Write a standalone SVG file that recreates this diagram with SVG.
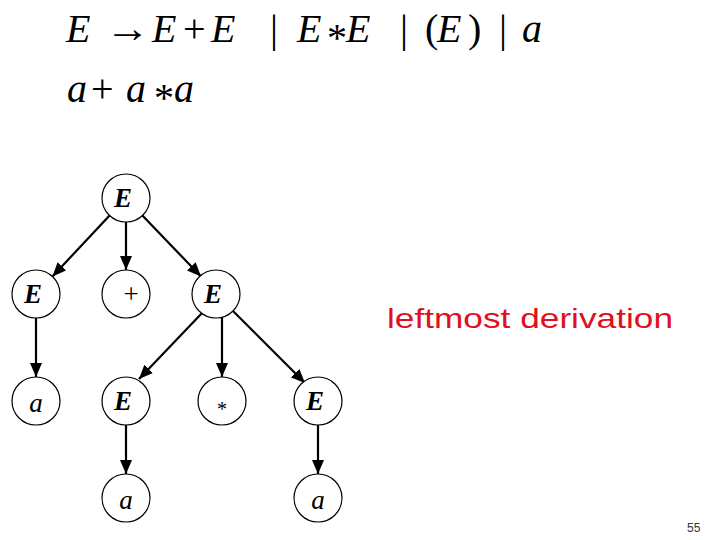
<svg xmlns="http://www.w3.org/2000/svg" width="720" height="540" viewBox="0 0 720 540">
<style>
.m{font-family:"Liberation Serif","Times New Roman",serif;font-size:40px;fill:#000}
.i{font-style:italic}
.node circle{fill:#fff;stroke:#000;stroke-width:1.2}
.lbl{font-family:"Liberation Serif","Times New Roman",serif;font-size:27px;text-anchor:middle;fill:#000}
.E{font-style:italic;font-weight:bold}
.a{font-style:italic}
.edges line{stroke:#000;stroke-width:2.2;marker-end:url(#ah)}
.note{font-family:"Comic Sans MS","Liberation Sans",sans-serif;font-size:28px;fill:#e01020}
.pg{font-family:"Liberation Sans",Arial,sans-serif;font-size:12px;fill:#333}
</style>
<defs>
<marker id="ah" markerUnits="userSpaceOnUse" markerWidth="14" markerHeight="12" refX="14" refY="6" orient="auto">
<path d="M0,0 L14,6 L0,12 z" fill="#000"/>
</marker>
</defs>
<rect width="720" height="540" fill="#fff"/>
<g id="grammar">
<text class="m i" x="66" y="42">E</text>
<text class="m" x="105" y="42" textLength="45" lengthAdjust="spacingAndGlyphs">→</text>
<text class="m i" x="152" y="42">E</text>
<text class="m" x="183" y="42">+</text>
<text class="m i" x="211" y="42">E</text>
<text class="m" x="270" y="42">|</text>
<text class="m i" x="297" y="42">E</text>
<text class="m" x="327" y="51">*</text>
<text class="m i" x="346" y="42">E</text>
<text class="m" x="400" y="42">|</text>
<text class="m" x="425" y="42">(</text>
<text class="m i" x="437" y="42">E</text>
<text class="m" x="468" y="42">)</text>
<text class="m" x="499" y="42">|</text>
<text class="m i" x="522" y="42">a</text>
</g>
<g id="input">
<text class="m i" x="67" y="102">a</text>
<text class="m" x="91" y="102">+</text>
<text class="m i" x="126" y="102">a</text>
<text class="m" x="154" y="111">*</text>
<text class="m i" x="174" y="102">a</text>
</g>
<g class="edges" id="connectors">
<line x1="109.6" y1="215.5" x2="52.4" y2="276.5"/>
<line x1="126" y1="222" x2="126" y2="270"/>
<line x1="142.4" y1="215.5" x2="201" y2="276.5"/>
<line x1="36" y1="318" x2="36" y2="377"/>
<line x1="203" y1="312" x2="139" y2="379"/>
<line x1="222" y1="317" x2="222" y2="377"/>
<line x1="233" y1="311" x2="305" y2="383"/>
<line x1="126" y1="425" x2="126" y2="474"/>
<line x1="318" y1="425" x2="318" y2="474"/>
</g>
<g class="node" id="n_root"><circle cx="126" cy="198" r="24"/><text class="lbl E" x="123" y="207">E</text></g>
<g class="node" id="n_E1"><circle cx="36" cy="294" r="24"/><text class="lbl E" x="33" y="303">E</text></g>
<g class="node" id="n_plus"><circle cx="126" cy="294" r="24"/><text class="lbl" x="131" y="303">+</text></g>
<g class="node" id="n_E2"><circle cx="216" cy="294" r="24"/><text class="lbl E" x="213" y="303">E</text></g>
<g class="node" id="n_a1"><circle cx="36" cy="401" r="24"/><text class="lbl a" x="36" y="412">a</text></g>
<g class="node" id="n_E3"><circle cx="126" cy="401" r="24"/><text class="lbl E" x="123" y="410">E</text></g>
<g class="node" id="n_star"><circle cx="222" cy="401" r="24"/><text class="lbl" style="font-size:20px" x="222" y="416">*</text></g>
<g class="node" id="n_E4"><circle cx="318" cy="401" r="24"/><text class="lbl E" x="315" y="410">E</text></g>
<g class="node" id="n_a2"><circle cx="126" cy="498" r="24"/><text class="lbl a" x="126" y="509">a</text></g>
<g class="node" id="n_a3"><circle cx="318" cy="498" r="24"/><text class="lbl a" x="318" y="509">a</text></g>
<text class="note" x="387" y="328" textLength="286" lengthAdjust="spacingAndGlyphs">leftmost derivation</text>
<text class="pg" x="687" y="532">55</text>
</svg>
